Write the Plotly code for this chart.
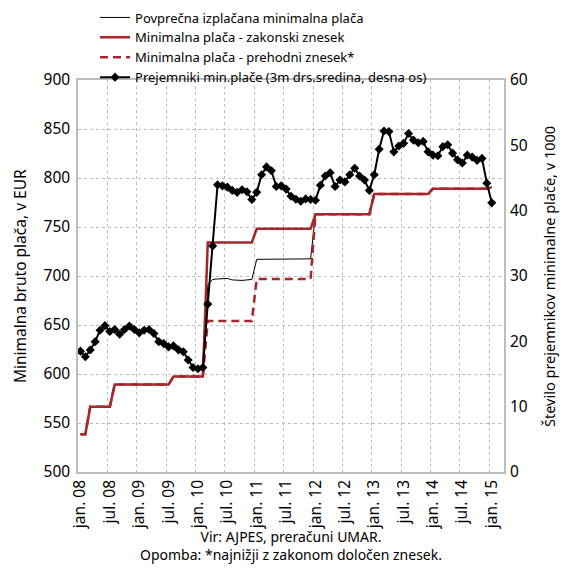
import plotly.graph_objects as go

# ---- data (monthly, jan.08 .. jan.15) ----
months = list(range(85))

legal_min = ([538.53] * 2 + [566.53] * 5 + [589.19] * 12 + [597.43] * 7 +
             [734.15] * 10 + [748.10] * 12 + [763.06] * 12 + [783.66] * 12 +
             [789.15] * 12 + [790.73])

transitional_min = ([538.53] * 2 + [566.53] * 5 + [589.19] * 12 + [597.43] * 7 +
                    [654.0] * 10 + [697.0] * 12 + [763.06] * 12 + [783.66] * 12 +
                    [789.15] * 12 + [790.73])

avg_paid = ([538.53] * 2 + [566.53] * 5 + [589.19] * 12 + [597.43] * 7 +
            [691.0, 696.5, 697.0, 697.0, 697.5, 696.0, 695.5, 695.5, 696.0, 696.5] +
            [717.0, 717.0, 716.8, 716.8, 717.0, 717.2, 717.0, 716.8, 717.0, 717.2, 717.3, 717.5] +
            [763.06] * 12 + [783.66] * 12 + [789.15] * 12 + [790.73])

recipients = [18.5, 17.65, 18.67, 19.95, 21.7, 22.4, 21.5, 21.8, 21.1, 21.8, 22.35, 21.8,
              21.3, 21.7, 21.8, 21.2, 19.95, 19.65, 19.15, 19.3, 18.7, 18.4, 17.15, 16.0,
              15.8, 16.0, 25.7, 34.6, 43.95, 43.8, 43.6, 43.1, 42.8, 43.2, 42.9, 41.7,
              42.8, 45.5, 46.7, 46.1, 43.7, 43.8, 43.3, 42.2, 41.75, 41.45, 41.8, 41.7,
              41.6, 43.9, 45.3, 45.8, 43.7, 44.7, 44.4, 45.5, 46.5, 45.3, 44.7, 43.1,
              45.5, 49.4, 52.2, 52.1, 49.0, 49.9, 50.3, 51.8, 50.8, 50.4, 50.6, 49.0,
              48.5, 48.4, 49.8, 50.1, 48.8, 47.8, 47.3, 48.5, 48.2, 47.7, 48.0, 44.2,
              41.2]

tick_vals = list(range(0, 85, 6))
tick_text = ["jan. 08", "jul. 08", "jan. 09", "jul. 09", "jan. 10", "jul. 10", "jan. 11",
             "jul. 11", "jan. 12", "jul. 12", "jan. 13", "jul. 13", "jan. 14", "jul. 14",
             "jan. 15"]

RED = "#A3272B"
FONT = "Noto Sans"
GRID = "#bdbdbd"

fig = go.Figure()
fig.add_trace(go.Scatter(x=months, y=avg_paid, mode="lines",
                         line=dict(color="black", width=1),
                         name="Povprečna izplačana minimalna plača"))
fig.add_trace(go.Scatter(x=months, y=legal_min, mode="lines",
                         line=dict(color=RED, width=2.5),
                         name="Minimalna plača - zakonski znesek"))
fig.add_trace(go.Scatter(x=months, y=transitional_min, mode="lines",
                         line=dict(color=RED, width=2.5, dash="8px,5px"),
                         name="Minimalna plača - prehodni znesek*"))
fig.add_trace(go.Scatter(x=months, y=recipients, mode="lines+markers", yaxis="y2",
                         line=dict(color="black", width=2),
                         marker=dict(symbol="diamond", size=7, color="black"),
                         name="Prejemniki min.plače (3m drs.sredina, desna os)"))

# page body has an 8px default margin: keep the figure inside the window
fig.update_layout(
    width=552, height=556,
    margin=dict(l=70, r=56, t=72, b=92, autoexpand=False),
    paper_bgcolor="white", plot_bgcolor="white",
    font=dict(family=FONT, size=15, color="black"),
    showlegend=True,
    legend=dict(x=0.04, y=1.1977, xanchor="left", yanchor="top",
                bgcolor="rgba(0,0,0,0)", font=dict(size=13),
                tracegroupgap=0, itemwidth=30),
    xaxis=dict(range=[-0.5, 86.5], tickmode="array", tickvals=tick_vals,
               ticktext=tick_text, tickangle=-90, showgrid=False,
               tickfont=dict(size=15.5),
               ticks="", showline=True, linecolor=GRID, linewidth=1.5, mirror=True,
               zeroline=False,
               minor=dict(tickmode="linear", tick0=-0.5, dtick=6, showgrid=True,
                          gridcolor=GRID, griddash="dot", gridwidth=1)),
    yaxis=dict(range=[500, 900], dtick=50, showgrid=True, gridcolor=GRID,
               griddash="dot", gridwidth=1, showline=True, linecolor=GRID,
               linewidth=1.5, mirror=True, ticks="", zeroline=False,
               tickfont=dict(size=15.5), ticklabelstandoff=3),
    yaxis2=dict(range=[0, 60], dtick=10, overlaying="y", side="right",
                showgrid=False, zeroline=False, ticks="",
                tickfont=dict(size=15.5), ticklabelstandoff=5),
    annotations=[
        dict(text="Minimalna bruto plača, v EUR", xref="paper", yref="paper",
             x=-0.136, y=0.5, textangle=-90, showarrow=False,
             xanchor="center", yanchor="middle", font=dict(size=15.5)),
        dict(text="Število prejemnikov minimalne plače, v 1000", xref="paper", yref="paper",
             x=1.1056, y=0.5, textangle=-90, showarrow=False,
             xanchor="center", yanchor="middle", font=dict(size=14.5)),
        dict(text="Vir: AJPES, preračuni UMAR.<br>Opomba: *najnižji z zakonom določen znesek.",
             xref="paper", yref="paper", x=0.5, y=-0.1875, showarrow=False,
             xanchor="center", yanchor="middle", align="center",
             font=dict(size=14)),
    ],
)

fig.write_html("out.html")
